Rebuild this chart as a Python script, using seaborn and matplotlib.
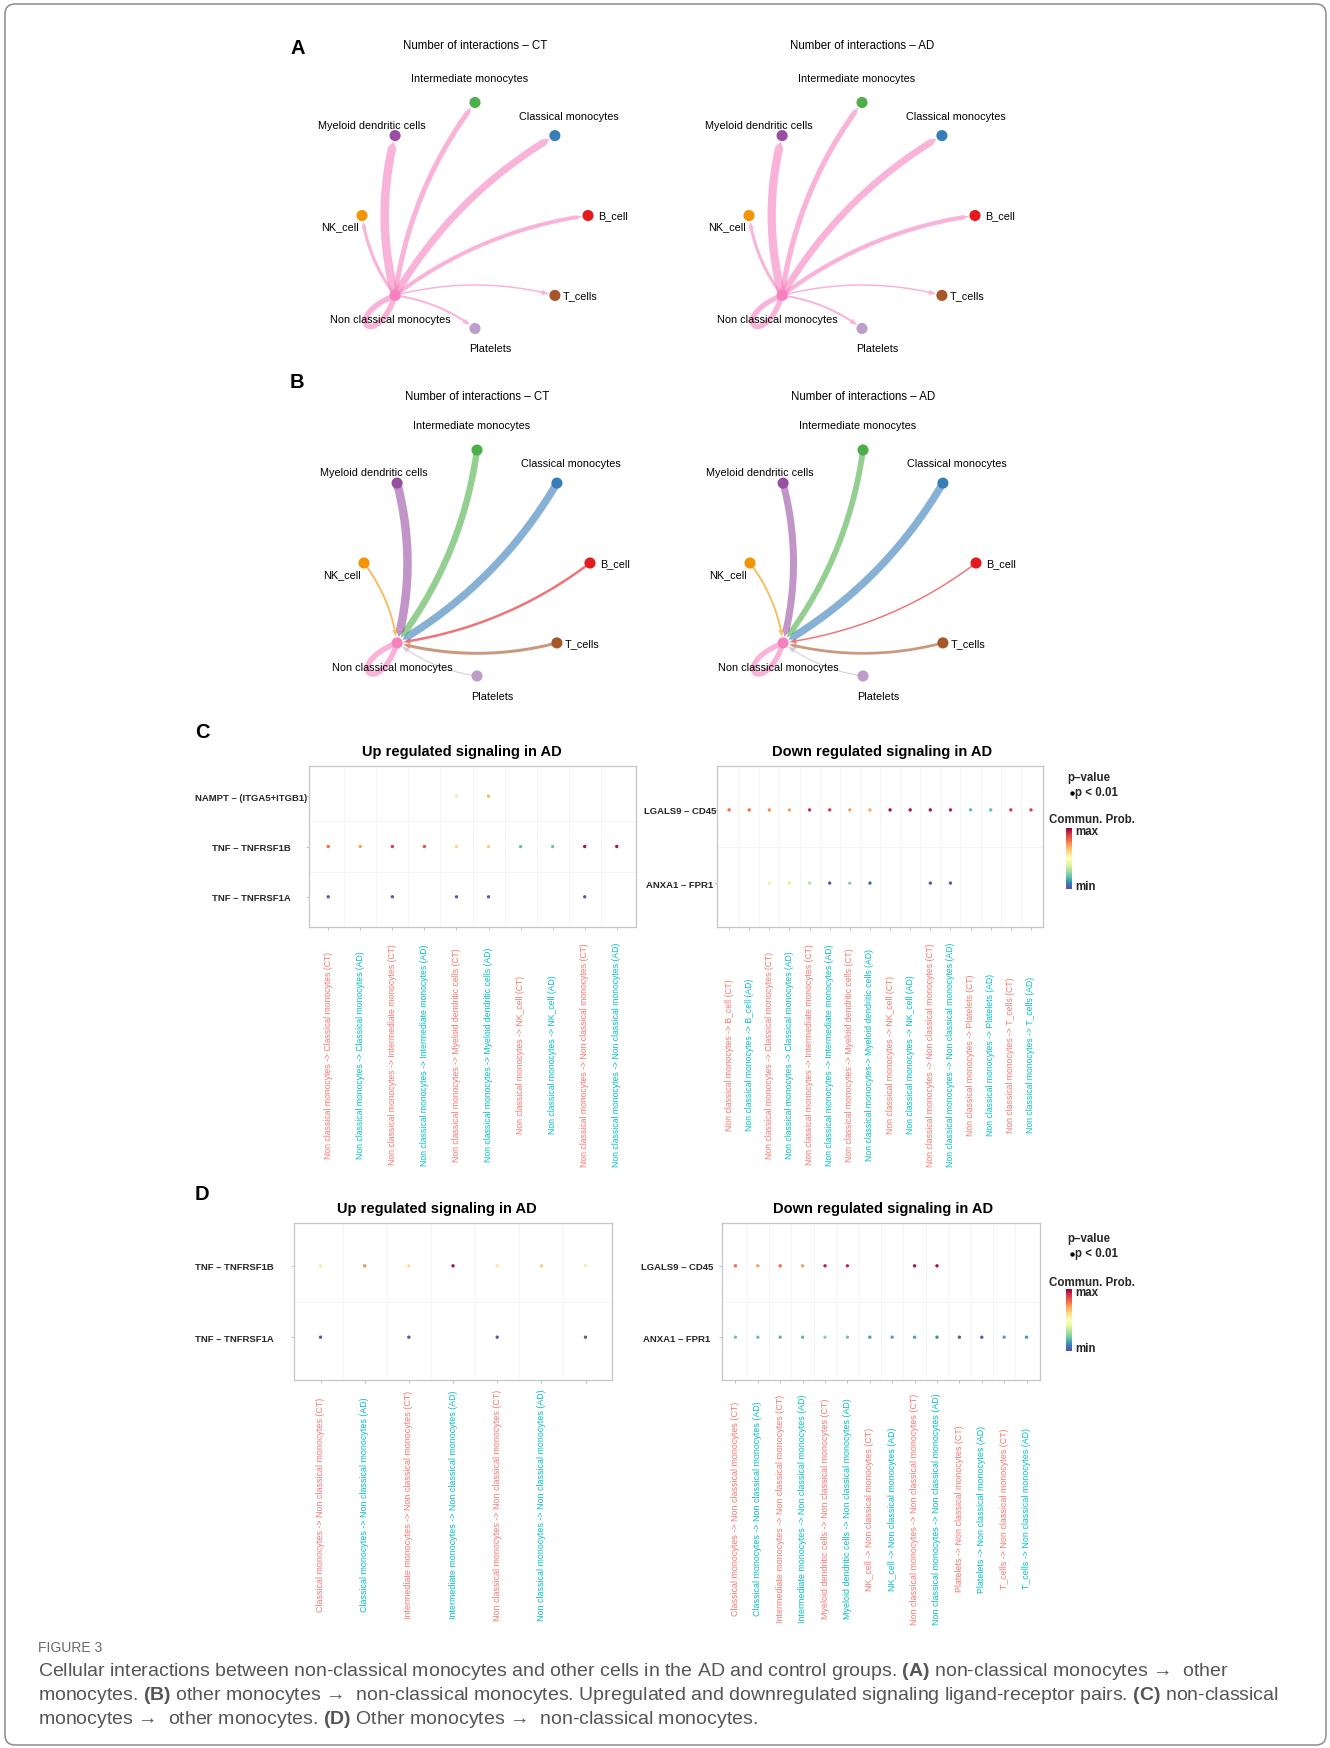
import numpy as np
import pandas as pd
import matplotlib
matplotlib.use("Agg")
import matplotlib.pyplot as plt
from matplotlib.patches import FancyBboxPatch, Polygon
import seaborn as sns

# ---------------- data ----------------
# cell groups in layout order (counter-clockwise from the right)
cells = ["B_cell", "Classical monocytes", "Intermediate monocytes",
         "Myeloid dendritic cells", "NK_cell", "Non classical monocytes",
         "Platelets", "T_cells"]
cell_colors = ["#E41A1C", "#377EB8", "#4DAF4A", "#984EA3",
               "#F29403", "#F781BF", "#BC9DCC", "#A65628"]

# number of interactions: non classical monocytes -> each group
out_ct = [16, 28, 20, 34, 12, 22, 8, 6]
out_ad = [17, 27, 21, 33, 12, 21, 8, 6]
# number of interactions: each group -> non classical monocytes
in_ct = [10, 30, 26, 34, 8, 22, 4, 12]
in_ad = [6, 30, 23, 28, 8, 21, 4, 11]

nan = np.nan
# (C) non classical monocytes -> other cells
c_up_pairs = ["NAMPT – (ITGA5+ITGB1)", "TNF – TNFRSF1B", "TNF – TNFRSF1A"]
c_up_labels = [
    "Non classical monocytes -> Classical monocytes (CT)",
    "Non classical monocytes -> Classical monocytes (AD)",
    "Non classical monocytes -> Intermediate monocytes (CT)",
    "Non classical monocytes -> Intermediate monocytes (AD)",
    "Non classical monocytes -> Myeloid dendritic cells (CT)",
    "Non classical monocytes -> Myeloid dendritic cells (AD)",
    "Non classical monocytes -> NK_cell (CT)",
    "Non classical monocytes -> NK_cell (AD)",
    "Non classical monocytes -> Non classical monocytes (CT)",
    "Non classical monocytes -> Non classical monocytes (AD)",
]
c_up_prob = [
    [nan, nan, nan, nan, 0.40, 0.68, nan, nan, nan, nan],
    [0.80, 0.72, 0.90, 0.85, 0.62, 0.64, 0.20, 0.22, 0.98, 0.97],
    [0.03, nan, 0.03, nan, 0.03, 0.03, nan, nan, 0.03, nan],
]

c_down_pairs = ["LGALS9 – CD45", "ANXA1 – FPR1"]
c_down_labels = [
    "Non classical monocytes -> B_cell (CT)",
    "Non classical monocytes -> B_cell (AD)",
    "Non classical monocytes -> Classical monocytes (CT)",
    "Non classical monocytes -> Classical monocytes (AD)",
    "Non classical monocytes -> Intermediate monocytes (CT)",
    "Non classical monocytes -> Intermediate monocytes (AD)",
    "Non classical monocytes -> Myeloid dendritic cells (CT)",
    "Non classical monocytes-> Myeloid dendritic cells (AD)",
    "Non classical monocytes -> NK_cell (CT)",
    "Non classical monocytes -> NK_cell (AD)",
    "Non classical monocytes -> Non classical monocytes (CT)",
    "Non classical monocytes -> Non classical monocytes (AD)",
    "Non classical monocytes -> Platelets (CT)",
    "Non classical monocytes -> Platelets (AD)",
    "Non classical monocytes -> T_cells (CT)",
    "Non classical monocytes -> T_cells (AD)",
]
c_down_prob = [
    [0.80, 0.80, 0.75, 0.72, 0.92, 0.90, 0.72, 0.70,
     0.97, 0.97, 0.97, 0.95, 0.20, 0.20, 0.90, 0.88],
    [nan, nan, 0.42, 0.40, 0.32, 0.02, 0.25, 0.05,
     nan, nan, 0.03, 0.03, nan, nan, nan, nan],
]

# (D) other cells -> non classical monocytes
d_up_pairs = ["TNF – TNFRSF1B", "TNF – TNFRSF1A"]
d_up_labels = [
    "Classical monocytes -> Non classical monocytes (CT)",
    "Classical monocytes -> Non classical monocytes (AD)",
    "Intermediate monocytes -> Non classical monocytes (CT)",
    "Intermediate monocytes -> Non classical monocytes (AD)",
    "Non classical monocytes -> Non classical monocytes (CT)",
    "Non classical monocytes -> Non classical monocytes (AD)",
    "",
]
d_up_prob = [
    [0.40, 0.75, 0.60, 0.97, 0.58, 0.65, 0.42],
    [0.02, nan, 0.02, nan, 0.02, nan, 0.02],
]

d_down_pairs = ["LGALS9 – CD45", "ANXA1 – FPR1"]
d_down_labels = [
    "Classical monocytes -> Non classical monocytes (CT)",
    "Classical monocytes -> Non classical monocytes (AD)",
    "Intermediate monocytes -> Non classical monocytes (CT)",
    "Intermediate monocytes -> Non classical monocytes (AD)",
    "Myeloid dendritic cells -> Non classical monocytes (CT)",
    "Myeloid dendritic cells -> Non classical monocytes (AD)",
    "NK_cell -> Non classical monocytes (CT)",
    "NK_cell -> Non classical monocytes (AD)",
    "Non classical monocytes -> Non classical monocytes (CT)",
    "Non classical monocytes -> Non classical monocytes (AD)",
    "Platelets -> Non classical monocytes (CT)",
    "Platelets -> Non classical monocytes (AD)",
    "T_cells -> Non classical monocytes (CT)",
    "T_cells -> Non classical monocytes (AD)",
]
d_down_prob = [
    [0.80, 0.72, 0.80, 0.72, 0.95, 0.93, nan, nan,
     0.97, 0.97, nan, nan, nan, nan],
    [0.22, 0.20, 0.18, 0.18, 0.25, 0.22, 0.15, 0.15,
     0.15, 0.12, 0.02, 0.02, 0.15, 0.13],
]

caption_lines = [
    r"Cellular interactions between non-classical monocytes and other cells in the AD and control groups. $\mathbf{(A)}$ non-classical monocytes →  other",
    r"monocytes. $\mathbf{(B)}$ other monocytes →  non-classical monocytes. Upregulated and downregulated signaling ligand-receptor pairs. $\mathbf{(C)}$ non-classical",
    r"monocytes →  other monocytes. $\mathbf{(D)}$ Other monocytes →  non-classical monocytes.",
]

# ---------------- style ----------------
sns.set_theme(style="white")
plt.rcParams["font.family"] = ["Liberation Sans", "DejaVu Sans"]
plt.rcParams["mathtext.fontset"] = "custom"
plt.rcParams["mathtext.rm"] = "Liberation Sans"
plt.rcParams["mathtext.bf"] = "Liberation Sans:bold"

W, H = 1330, 1749
fig = plt.figure(figsize=(W / 100, H / 100), dpi=100)
fig.patch.set_facecolor("white")

# full-figure canvas in pixel units for the networks and text
bg = fig.add_axes([0, 0, 1, 1])
bg.set_xlim(0, W)
bg.set_ylim(H, 0)
bg.axis("off")

bg.add_patch(FancyBboxPatch((5, 5), W - 9, H - 8,
                            boxstyle="round,pad=0,rounding_size=10",
                            fc="none", ec="#8c8c8c", lw=1.1))

CMAX = max(max(out_ct), max(out_ad), max(in_ct), max(in_ad))
WMAX_PX = 8.5
NC = cells.index("Non classical monocytes")

# label placement around each node (pixel offsets, alignment)
label_place = {
    "B_cell": (10, 0, "left"),
    "Classical monocytes": (14, -20, "center"),
    "Intermediate monocytes": (-5, -25, "center"),
    "Myeloid dendritic cells": (-23, -11, "center"),
    "NK_cell": (-22, 11, "center"),
    "Non classical monocytes": (-5, 24, "center"),
    "Platelets": (15, 20, "center"),
    "T_cells": (8, 0, "left"),
}


def bezier(p0, p1, p2, t):
    t = np.asarray(t)[:, None]
    return (1 - t) ** 2 * p0 + 2 * (1 - t) * t * p1 + t ** 2 * p2


def draw_edge(ax, p0, p2, color, wpx, k=0.13, r0=3.0, r1=6.0, head=7.0):
    p0 = np.asarray(p0, float)
    p2 = np.asarray(p2, float)
    d = p2 - p0
    L = np.hypot(*d)
    p1 = (p0 + p2) / 2 + k * np.array([d[1], -d[0]])
    t0, ttip, t1 = r0 / L, 1 - r1 / L, 1 - (r1 + head) / L
    pts = bezier(p0, p1, p2, np.linspace(t0, t1, 80))
    ax.plot(pts[:, 0], pts[:, 1], color=color, alpha=0.6, lw=wpx * 0.72,
            solid_capstyle="butt", zorder=2)
    tip = bezier(p0, p1, p2, [ttip])[0]
    base = pts[-1]
    u = (tip - base) / np.linalg.norm(tip - base)
    n = np.array([-u[1], u[0]])
    hw = max(2.6, wpx * 0.55)
    ax.add_patch(Polygon([tip, base + n * hw, base - n * hw], closed=True,
                         fc=color, ec="none", alpha=0.6, zorder=2))


def draw_loop(ax, c, color, wpx, reach=41.0, spread=25.0):
    c = np.asarray(c, float)
    direc = np.array([-0.69, 0.73])
    direc /= np.linalg.norm(direc)
    lc = reach / (0.75 * np.cos(np.deg2rad(spread)))

    def rot(v, a):
        a = np.deg2rad(a)
        return np.array([v[0] * np.cos(a) - v[1] * np.sin(a),
                         v[0] * np.sin(a) + v[1] * np.cos(a)])
    q1 = c + lc * rot(direc, spread)
    q2 = c + lc * rot(direc, -spread)
    t = np.linspace(0, 1, 120)[:, None]
    pts = ((1 - t) ** 3 * c + 3 * (1 - t) ** 2 * t * q1
           + 3 * (1 - t) * t ** 2 * q2 + t ** 3 * c)
    ax.plot(pts[:, 0], pts[:, 1], color=color, alpha=0.6, lw=wpx * 0.72,
            solid_capstyle="butt", zorder=2)


def network(ax, cx, cy, counts, outgoing, title, title_y, R=113.0):
    pos = []
    for i in range(len(cells)):
        a = np.deg2rad(45 * i)
        pos.append((cx + R * np.cos(a), cy - R * np.sin(a)))
    for i, cnt in enumerate(counts):
        wpx = cnt / CMAX * WMAX_PX
        if i == NC:
            draw_loop(ax, pos[NC], cell_colors[NC], wpx)
            continue
        if outgoing:
            draw_edge(ax, pos[NC], pos[i], cell_colors[NC], wpx)
        else:
            draw_edge(ax, pos[i], pos[NC], cell_colors[i], wpx)
    xs = [p[0] for p in pos]
    ys = [p[1] for p in pos]
    ax.scatter(xs, ys, s=64, c=cell_colors, lw=0, zorder=5)
    for i, name in enumerate(cells):
        dx, dy, ha = label_place[name]
        ax.text(pos[i][0] + dx, pos[i][1] + dy, name, ha=ha, va="center",
                fontsize=7.8, color="black", zorder=6)
    ax.text(cx, title_y, title, ha="center", va="center", fontsize=8.3,
            color="black")


network(bg, 475, 216.5, out_ct, True, "Number of interactions – CT", 46)
network(bg, 862, 216.5, out_ad, True, "Number of interactions – AD", 46)
network(bg, 477, 564, in_ct, False, "Number of interactions – CT", 397)
network(bg, 863, 564, in_ad, False, "Number of interactions – AD", 397)

for letter, (x, y) in {"A": (298, 48), "B": (297, 383),
                       "C": (202, 733), "D": (202, 1195)}.items():
    bg.text(x, y, letter, ha="center", va="center", fontsize=14.5,
            fontweight="bold", color="black")

CT_COL, AD_COL = "#F8766D", "#00BFC4"


def bubble(rect, pairs, labels, probs, title, title_xy, ylab_cx, lab_cy,
           fs_x):
    left, top, right, bottom = rect
    ax = fig.add_axes([left / W, 1 - bottom / H, (right - left) / W,
                       (bottom - top) / H])
    n, m = len(labels), len(pairs)
    rows = []
    for i, pr in enumerate(probs):
        for j, v in enumerate(pr):
            if not np.isnan(v):
                rows.append((j + 1, i + 1, v))
    df = pd.DataFrame(rows, columns=["x", "y", "prob"])
    sns.scatterplot(data=df, x="x", y="y", hue="prob", palette="Spectral_r",
                    hue_norm=(0, 1), s=6, linewidth=0, legend=False, ax=ax,
                    zorder=3)
    ax.set_xlim(0.4, n + 0.6)
    ax.set_ylim(m + 0.6, 0.4)
    for x in np.arange(1.5, n, 1.0):
        ax.axvline(x, color="#eeeeee", lw=0.4, zorder=1)
    for y in np.arange(1.5, m, 1.0):
        ax.axhline(y, color="#eeeeee", lw=0.4, zorder=1)
    for s in ax.spines.values():
        s.set_color("#c6c6c6")
        s.set_linewidth(0.9)
    ax.set_xlabel("")
    ax.set_ylabel("")
    tick_len = 2.0
    ax.set_xticks(np.arange(1, n + 1))
    ax.set_xticklabels(labels, rotation=90, ha="center", va="center",
                       fontsize=fs_x)
    for j, t in enumerate(ax.get_xticklabels()):
        t.set_color(CT_COL if j % 2 == 0 else AD_COL)
    ax.set_yticks(np.arange(1, m + 1))
    ax.set_yticklabels(pairs, fontweight="bold", fontsize=6.8, ha="center")
    ax.tick_params(axis="x", bottom=True, length=tick_len, width=0.5,
                   color="#aaaaaa",
                   pad=(lab_cy - bottom) * 0.72 - tick_len)
    ax.tick_params(axis="y", left=True, length=tick_len, width=0.5,
                   color="#aaaaaa",
                   pad=(left - ylab_cx) * 0.72 - tick_len)
    bg.text(title_xy[0], title_xy[1], title, ha="center", va="center",
            fontsize=10.5, fontweight="bold", color="black")
    return ax


bubble((309, 767, 636, 928), c_up_pairs, c_up_labels, c_up_prob,
       "Up regulated signaling in AD", (462, 752), 251, 1055, 6.2)
bubble((717, 767, 1043, 928), c_down_pairs, c_down_labels, c_down_prob,
       "Down regulated signaling in AD", (882, 752), 680, 1055, 6.2)
bubble((294, 1224, 612, 1381), d_up_pairs, d_up_labels, d_up_prob,
       "Up regulated signaling in AD", (437, 1209), 234, 1505, 6.4)
bubble((722, 1224, 1040, 1381), d_down_pairs, d_down_labels, d_down_prob,
       "Down regulated signaling in AD", (883, 1209), 677, 1509, 6.4)


def legend(y_pv, y_pt, y_cp, cb_top, cb_bot):
    bg.text(1067, y_pv, "p–value", ha="left", va="center", fontsize=8.3,
            fontweight="bold")
    bg.scatter([1072], [y_pt + 1], s=10, c="black", lw=0, zorder=5)
    bg.text(1075, y_pt, "p < 0.01", ha="left", va="center", fontsize=8.3,
            fontweight="bold")
    bg.text(1049, y_cp, "Commun. Prob.", ha="left", va="center",
            fontsize=8.3, fontweight="bold")
    cax = fig.add_axes([1066 / W, 1 - cb_bot / H, 6 / W,
                        (cb_bot - cb_top) / H])
    cax.imshow(np.linspace(1, 0, 100)[:, None], aspect="auto",
               cmap="Spectral_r", vmin=0, vmax=1)
    cax.axis("off")
    bg.text(1075, cb_top + 3, "max", ha="left", va="center", fontsize=8.3,
            fontweight="bold")
    bg.text(1075, cb_bot - 3, "min", ha="left", va="center", fontsize=8.3,
            fontweight="bold")


legend(778, 793, 820, 829, 890)
legend(1239, 1254, 1283, 1290, 1352)

bg.text(38, 1648, "FIGURE 3", ha="left", va="center", fontsize=10,
        color="#6b6b6b")
for i, line in enumerate(caption_lines):
    bg.text(38, 1672 + 24 * i, line, ha="left", va="center",
            fontsize=14, color="#555555")

fig.savefig("out.png", dpi=100, facecolor="white")
